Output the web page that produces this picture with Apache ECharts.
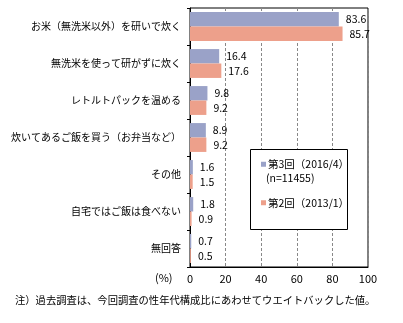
<!DOCTYPE html>
<html><head><meta charset="utf-8">
<script src="https://cdn.jsdelivr.net/npm/echarts@6/dist/echarts.min.js"></script>
<style>html,body{margin:0;padding:0;background:#fff}#c{width:403px;height:323px}</style>
</head><body><div id="c"></div>
<script>
const categories = ['お米（無洗米以外）を研いで炊く','無洗米を使って研がずに炊く','レトルトパックを温める','炊いてあるご飯を買う（お弁当など）','その他','自宅ではご飯は食べない','無回答'];
const series3 = [83.6, 16.4, 9.8, 8.9, 1.6, 1.8, 0.7];
const series2 = [85.7, 17.6, 9.2, 9.2, 1.5, 0.9, 0.5];
const seriesNames = ['第3回（2016/4）','第2回（2013/1）'];
const xTicks = [0, 20, 40, 60, 80, 100];
const FONT = '"Noto Sans CJK JP", sans-serif';
const chart = echarts.init(document.getElementById('c'), null, {renderer:'canvas'});
const lbl = {show:true, position:'right', distance:7, color:'#000', fontSize:10.5, fontFamily:FONT, formatter: p => p.value.toFixed(1)};
chart.setOption({
  animation:false,
  backgroundColor:'#fff',
  grid:{left:190, right:35, top:8, bottom:56, show:true, borderColor:'#000', borderWidth:1, backgroundColor:'transparent', containLabel:false},
  xAxis:{type:'value', min:xTicks[0], max:xTicks[xTicks.length-1], interval:20,
    axisLine:{show:true, lineStyle:{color:'#000'}}, axisTick:{show:false},
    axisLabel:{color:'#000', fontSize:11, fontFamily:FONT, margin:6},
    splitLine:{show:true, lineStyle:{color:'#888', type:[3,2]}}},
  yAxis:{type:'category', data:categories, inverse:true,
    axisLine:{show:true, lineStyle:{color:'#000'}},
    axisTick:{show:true, length:3, lineStyle:{color:'#000'}},
    axisLabel:{color:'#000', fontSize:10, fontFamily:FONT, margin:9}},
  legend:{orient:'vertical', left:256, top:154, itemWidth:5, itemHeight:5, itemGap:28, z:10,
    icon:'rect', textStyle:{color:'#000', fontSize:10.5, fontFamily:FONT, padding:[0,0,0,-3]},
    data:seriesNames},
  graphic:[
    {type:'rect', left:250, top:149, shape:{width:97, height:80}, style:{fill:'#fff', stroke:'#000', lineWidth:1}, z:3},
    {type:'text', left:266, top:173, style:{text:'(n=11455)', fill:'#000', font:'10.5px "Noto Sans CJK JP", sans-serif'}, z:11},
    {type:'text', left:155, top:272, style:{text:'(%)', fill:'#000', font:'11px "Noto Sans CJK JP", sans-serif'}},
    {type:'text', left:15, top:295, style:{text:'注）過去調査は、今回調査の性年代構成比にあわせてウエイトバックした値。', fill:'#000', font:'10.3px "Noto Sans CJK JP", sans-serif'}}
  ],
  series:[
    {name:seriesNames[0], type:'bar', data:series3, barGap:'0%', barCategoryGap:'22%', itemStyle:{color:'#9aa2c8'}, label:lbl},
    {name:seriesNames[1], type:'bar', data:series2, barGap:'0%', barCategoryGap:'22%', itemStyle:{color:'#eda08b'}, label:lbl}
  ]
});
</script></body></html>
